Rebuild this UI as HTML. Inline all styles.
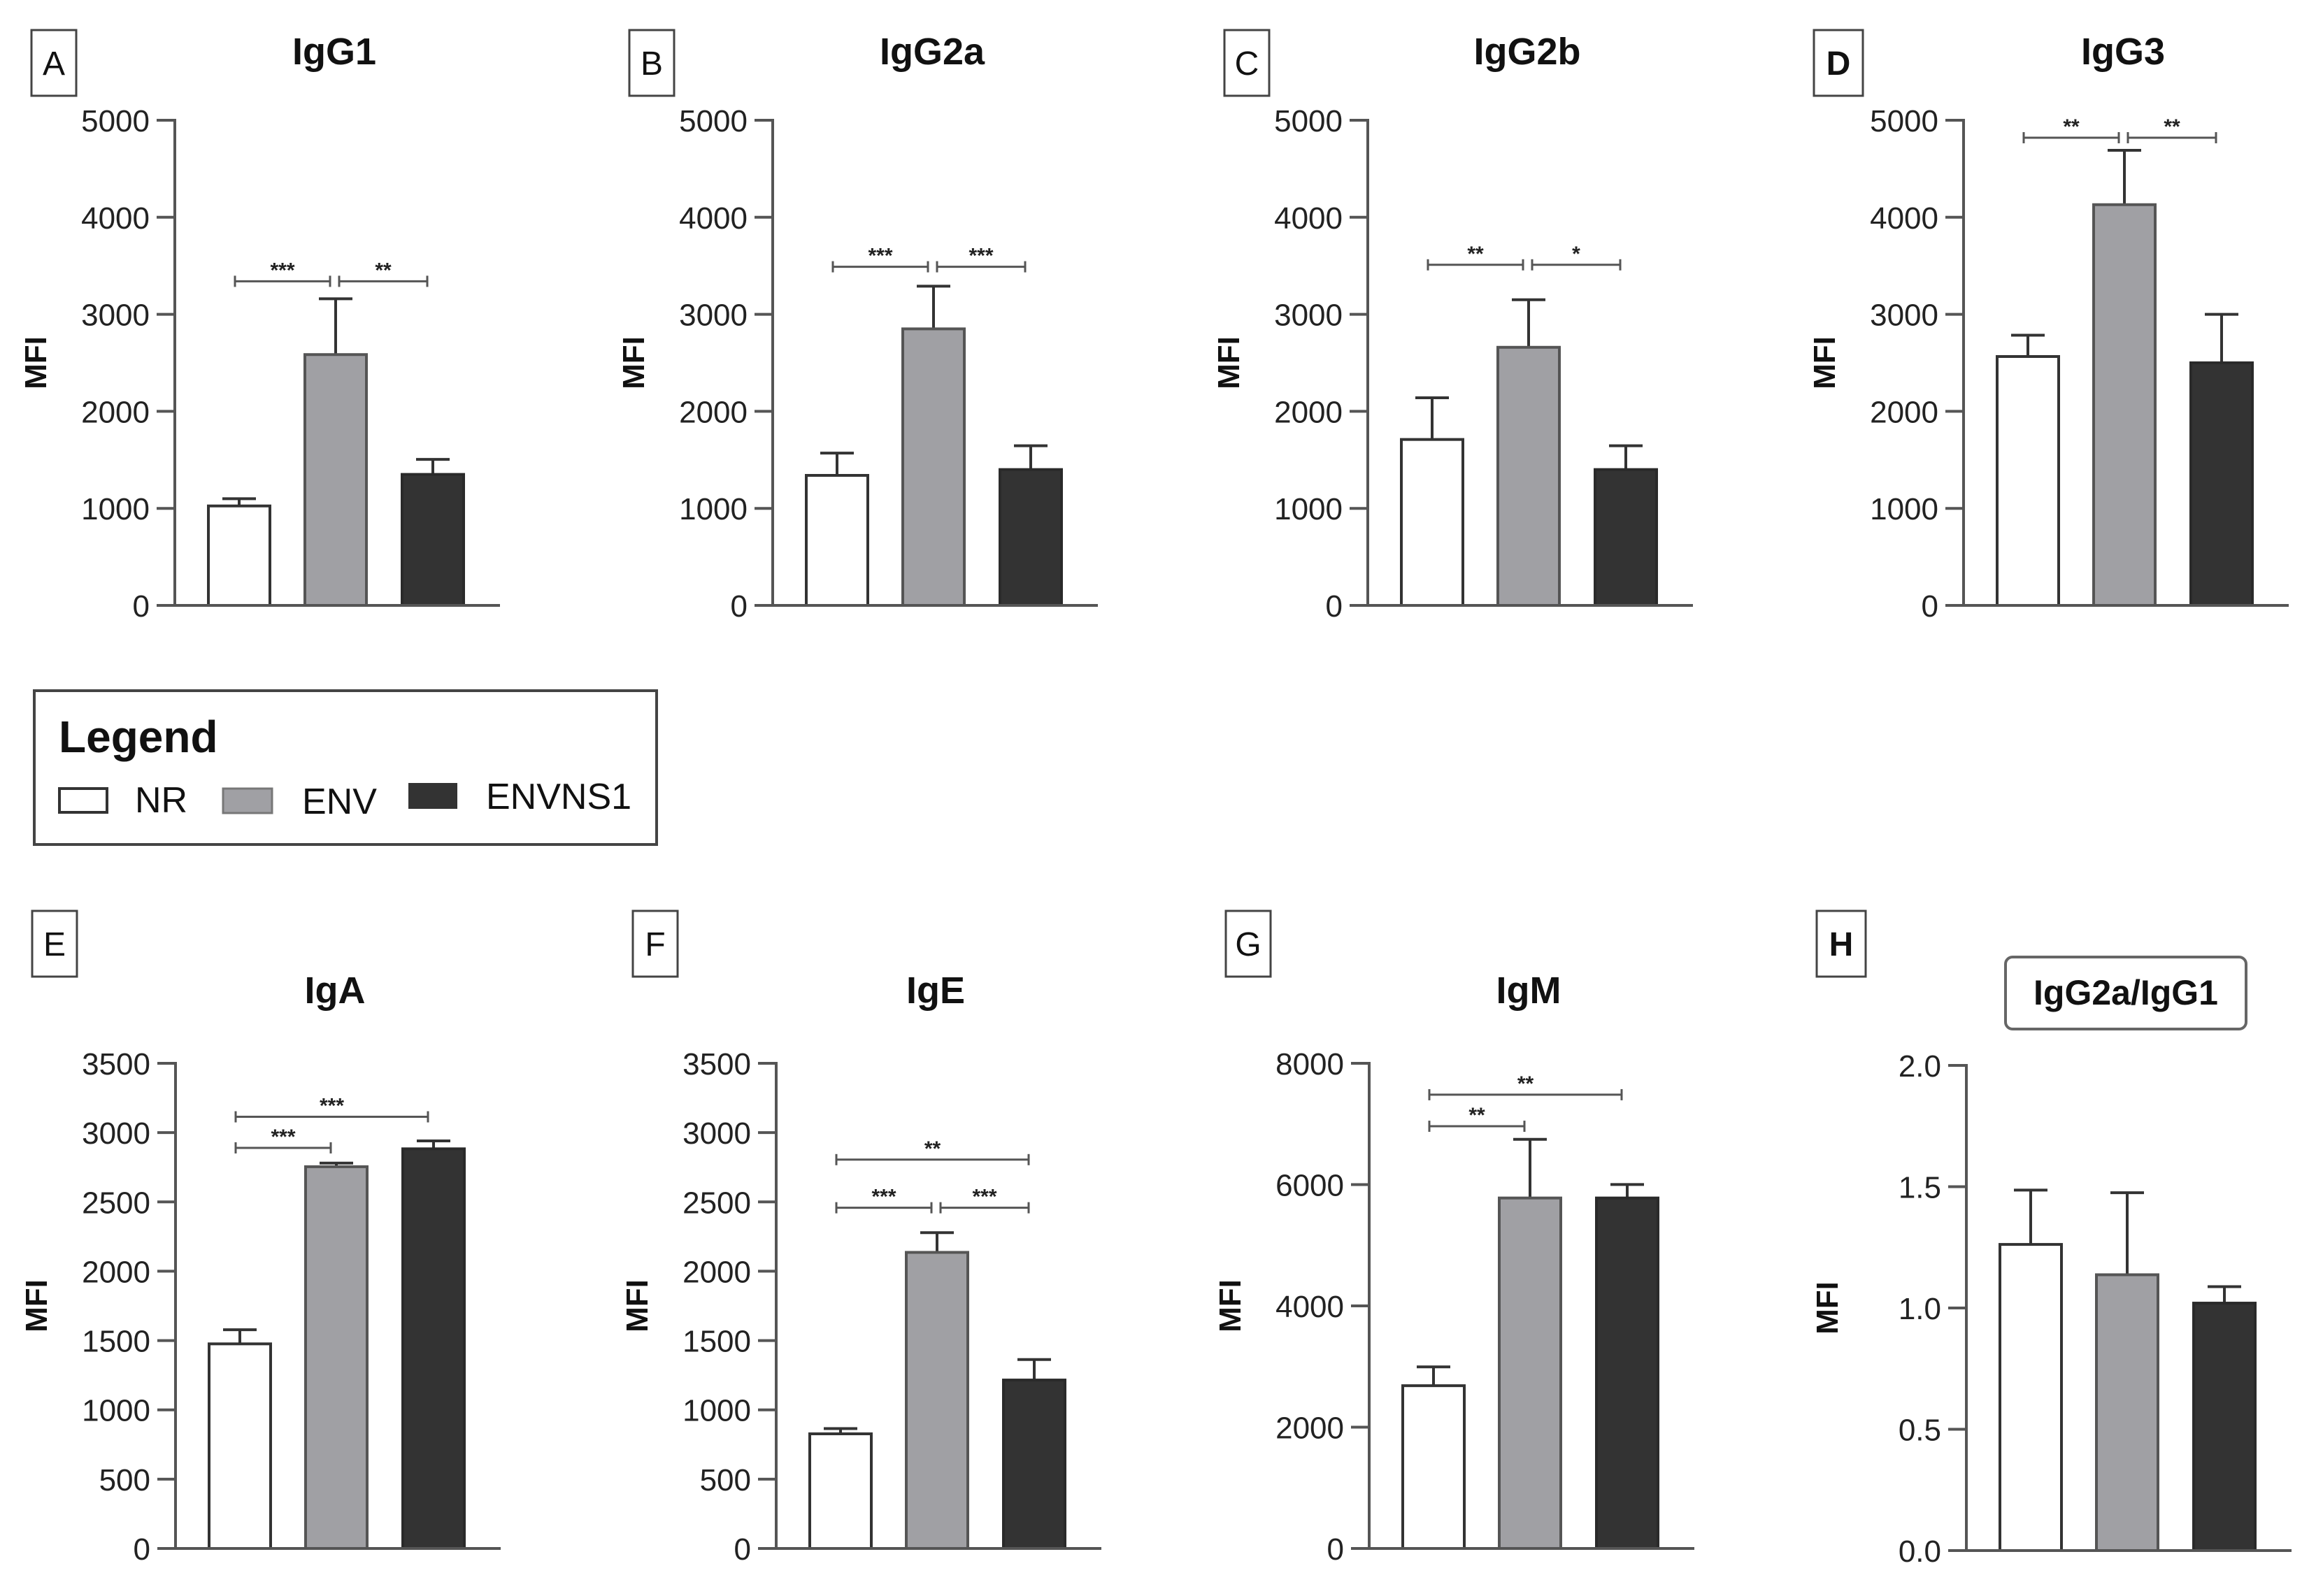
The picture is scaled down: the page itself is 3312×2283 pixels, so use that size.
<!DOCTYPE html>
<html><head><meta charset="utf-8"><style>
html,body{margin:0;padding:0;background:#fff;}
svg{display:block;font-family:"Liberation Sans",Arial,sans-serif;}
</style></head><body>
<svg id="fig" width="3312" height="2283" viewBox="0 0 3312 2283" xmlns="http://www.w3.org/2000/svg">
<rect width="3312" height="2283" fill="#fff"/>
<g>
<rect x="49" y="988" width="890" height="220" fill="#fff" stroke="#444" stroke-width="4"/>
<text x="84" y="1076" font-size="64" font-weight="bold" fill="#111">Legend</text>
<g><rect x="85" y="1128" width="68" height="34" fill="#fff" stroke="#333" stroke-width="4"/><text x="193" y="1162" font-size="52" fill="#111">NR</text></g>
<g><rect x="319" y="1128" width="70" height="35" fill="#a0a0a4" stroke="#777" stroke-width="3"/><text x="432" y="1164" font-size="52" fill="#111">ENV</text></g>
<g><rect x="584" y="1120" width="70" height="37" fill="#333"/><text x="695" y="1157" font-size="52" fill="#111">ENVNS1</text></g>
</g>
</svg>
<script>
const groups = ["NR","ENV","ENVNS1"];
const igg1Values = [1025, 2585, 1350];
const igg1Errors = [1100, 3160, 1505];
const igg2aValues = [1340, 2850, 1400];
const igg2aErrors = [1570, 3290, 1645];
const igg2bValues = [1710, 2660, 1400];
const igg2bErrors = [2140, 3150, 1645];
const igg3Values = [2565, 4130, 2500];
const igg3Errors = [2785, 4690, 3000];
const igaValues = [1476, 2754, 2883];
const igaErrors = [1578, 2780, 2940];
const igeValues = [827, 2136, 1215];
const igeErrors = [865, 2278, 1363];
const igmValues = [2684, 5779, 5779];
const igmErrors = [2994, 6746, 6002];
const ratioValues = [1.262, 1.137, 1.02];
const ratioErrors = [1.486, 1.475, 1.088];
const ticks5000 = [0,1000,2000,3000,4000,5000];
const ticks3500 = [0,500,1000,1500,2000,2500,3000,3500];
const ticks8000 = [0,2000,4000,6000,8000];
const ticksRatio = [0,0.5,1.0,1.5,2.0];
const ratioTickLabels = ["0.0","0.5","1.0","1.5","2.0"];
const sigA = [[0,1,3340,"***"],[1,2,3340,"**"]];
const sigB = [[0,1,3490,"***"],[1,2,3490,"***"]];
const sigC = [[0,1,3510,"**"],[1,2,3510,"*"]];
const sigD = [[0,1,4820,"**"],[1,2,4820,"**"]];
const sigE = [[0,1,2890,"***"],[0,2,3114,"***"]];
const sigF = [[0,1,2458,"***"],[1,2,2458,"***"],[0,2,2805,"**"]];
const sigG = [[0,1,6962,"**"],[0,2,7482,"**"]];

const panels = [
 {id:"a",letter:"A",title:"IgG1",ax:250,y0:866,yT:172,max:5000,ticks:ticks5000,vals:igg1Values,errs:igg1Errors,sig:sigA,top:true},
 {id:"b",letter:"B",title:"IgG2a",ax:1105,y0:866,yT:172,max:5000,ticks:ticks5000,vals:igg2aValues,errs:igg2aErrors,sig:sigB,top:true},
 {id:"c",letter:"C",title:"IgG2b",ax:1956,y0:866,yT:172,max:5000,ticks:ticks5000,vals:igg2bValues,errs:igg2bErrors,sig:sigC,top:true},
 {id:"d",letter:"D",title:"IgG3",ax:2808,y0:866,yT:172,max:5000,ticks:ticks5000,vals:igg3Values,errs:igg3Errors,sig:sigD,top:true},
 {id:"e",letter:"E",title:"IgA",ax:251,y0:2215,yT:1521,max:3500,ticks:ticks3500,vals:igaValues,errs:igaErrors,sig:sigE},
 {id:"f",letter:"F",title:"IgE",ax:1110,y0:2215,yT:1521,max:3500,ticks:ticks3500,vals:igeValues,errs:igeErrors,sig:sigF},
 {id:"g",letter:"G",title:"IgM",ax:1958,y0:2215,yT:1521,max:8000,ticks:ticks8000,vals:igmValues,errs:igmErrors,sig:sigG},
 {id:"h",letter:"H",title:"IgG2a/IgG1",ax:2812,y0:2218,yT:1524,max:2,ticks:ticksRatio,labels:ratioTickLabels,vals:ratioValues,errs:ratioErrors,sig:[],boxed:true}
];
const fills=["#ffffff","#a0a0a4","#333333"];
const strokes=["#333","#555","#2a2a2a"];
const NS="http://www.w3.org/2000/svg";
const svg=document.getElementById("fig");
function mk(tag,attrs,parent,txt){const e=document.createElementNS(NS,tag);for(const k in attrs)e.setAttribute(k,attrs[k]);if(txt!==undefined)e.textContent=txt;parent.appendChild(e);return e;}
panels.forEach(p=>{
 const g=mk("g",{},svg);
 
 
 const y=v=>p.y0-(v/p.max)*(p.y0-p.yT);
 const cx=i=>p.ax+[92,230,369][i];
 // letter box
 const ly=p.top?43:1303, lh=p.top?94:94;
 const lx=p.letter==="H"||p.letter==="D"?p.ax-214:p.ax-205;
 const lb=mk("rect",{x:lx,y:ly,width:p.letter==="H"||p.letter==="D"?70:64,height:lh,fill:"#fff",stroke:"#444","stroke-width":3},g);
 
 
 const lt=mk("text",{x:lx+(p.letter==="H"||p.letter==="D"?35:32),y:ly+lh/2+17,"font-size":48,"text-anchor":"middle",fill:"#111","font-weight":(p.letter==="H"||p.letter==="D")?"bold":"normal"},g,p.letter);
 
 
 // title
 const tcx=p.ax+228, ty=p.top?92:1435;
 if(p.boxed){
  const tb=mk("rect",{x:2868,y:1369,width:344,height:103,rx:10,fill:"#fff",stroke:"#666","stroke-width":4},g);
  
  
 }
 const tt=mk("text",{x:tcx,y:p.boxed?1437:ty,"font-size":p.boxed?50:54,"font-weight":"bold","text-anchor":"middle",fill:"#111"},g,p.title);
 
 
 // y title
 const my=(p.y0+p.yT)/2;
 const yt=mk("text",{x:p.ax-184,y:my,"font-size":44,"font-weight":"bold","text-anchor":"middle",fill:"#111",transform:"rotate(-90 "+(p.ax-184)+" "+my+")"},g,"MFI");
 
 
 // axes
 const ya=mk("line",{x1:p.ax,y1:p.yT-2,x2:p.ax,y2:p.y0,stroke:"#555","stroke-width":4},g);
 
 
 p.ticks.forEach((t,i)=>{
  const tl=mk("line",{x1:p.ax-26,y1:y(t),x2:p.ax,y2:y(t),stroke:"#555","stroke-width":4},g);
  
  
  const tx=mk("text",{x:p.ax-36,y:y(t)+16,"font-size":44,"text-anchor":"end",fill:"#222"},g,p.labels?p.labels[i]:String(t));
  
  
 });
 // bars
 p.vals.forEach((v,i)=>{
  const el=mk("line",{x1:cx(i),y1:y(v),x2:cx(i),y2:y(p.errs[i]),stroke:"#333","stroke-width":4},g);
  
  
  const ec=mk("line",{x1:cx(i)-24,y1:y(p.errs[i]),x2:cx(i)+24,y2:y(p.errs[i]),stroke:"#333","stroke-width":4},g);
  
  
  const r=mk("rect",{x:cx(i)-44,y:y(v),width:88,height:p.y0-y(v),fill:fills[i],stroke:strokes[i],"stroke-width":4},g);
  
  
 });
 const xa=mk("line",{x1:p.ax-26,y1:p.y0,x2:p.ax+465,y2:p.y0,stroke:"#555","stroke-width":4},g);
 
 
 // significance
 p.sig.forEach(s=>{
  const sy=y(s[2]);
  const x1=cx(s[0])+(s[0]===1?5:-6), x2=cx(s[1])-8;
  const sl=mk("line",{x1:x1,y1:sy,x2:x2,y2:sy,stroke:"#555","stroke-width":3},g);
  
  
  [x1,x2].forEach(xx=>{mk("line",{x1:xx,y1:sy-8,x2:xx,y2:sy+8,stroke:"#555","stroke-width":3},g);});
  const st=mk("text",{x:(x1+x2)/2,y:sy-6,"font-size":30,"font-weight":"bold","text-anchor":"middle",fill:"#222"},g,s[3]);
  
  
 });
});
</script>
</body></html>
